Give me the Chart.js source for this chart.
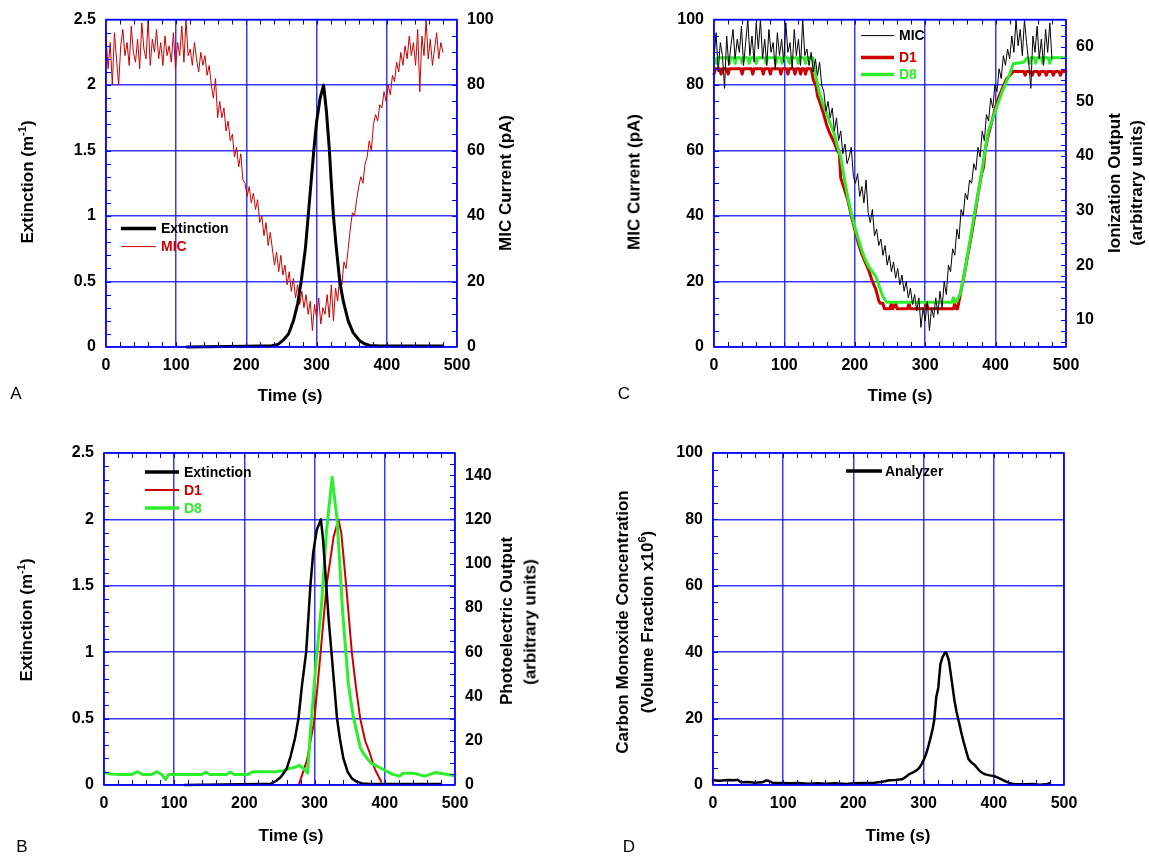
<!DOCTYPE html>
<html><head><meta charset="utf-8">
<script src="https://cdn.jsdelivr.net/npm/chart.js@4.4.1/dist/chart.umd.min.js"></script>
<style>
body{margin:0;background:#fff;width:1149px;height:859px;position:relative;overflow:hidden;font-family:"Liberation Sans",Arial,Helvetica,sans-serif;}
canvas{position:absolute;}
.t{position:absolute;font-weight:bold;font-size:17px;white-space:nowrap;transform:translate(-50%,-50%);color:#000;line-height:1;}
.r{transform:translate(-50%,-50%) rotate(-90deg);}
.p{position:absolute;font-size:17px;transform:translate(-50%,-50%);line-height:1;}
sup{font-size:11px;line-height:0;}
</style></head><body>
<canvas id="cA" width="574" height="430" style="left:0;top:0"></canvas>
<canvas id="cC" width="575" height="430" style="left:574px;top:0"></canvas>
<canvas id="cB" width="574" height="429" style="left:0;top:430px"></canvas>
<canvas id="cD" width="575" height="429" style="left:574px;top:430px"></canvas>

<div class="t r" style="left:27px;top:182px">Extinction (m<sup>-1</sup>)</div>
<div class="t r" style="left:505px;top:183px">MIC Current (pA)</div>
<div class="t" style="left:290px;top:395px">Time (s)</div>
<div class="p" style="left:16px;top:393px">A</div>

<div class="t r" style="left:634px;top:182px">MIC Current (pA)</div>
<div class="t r" style="left:1114px;top:183px">Ionization Output</div>
<div class="t r" style="left:1136px;top:183px">(arbitrary units)</div>
<div class="t" style="left:900px;top:395px">Time (s)</div>
<div class="p" style="left:624px;top:393px">C</div>

<div class="t r" style="left:26px;top:620px">Extinction (m<sup>-1</sup>)</div>
<div class="t r" style="left:506px;top:621px">Photoelectric Output</div>
<div class="t r" style="left:530px;top:622px">(arbitrary units)</div>
<div class="t" style="left:291px;top:835px">Time (s)</div>
<div class="p" style="left:22px;top:846px">B</div>

<div class="t r" style="left:622px;top:622px">Carbon Monoxide Concentration</div>
<div class="t r" style="left:647px;top:622px">(Volume Fraction x10<sup>6</sup>)</div>
<div class="t" style="left:898px;top:835px">Time (s)</div>
<div class="p" style="left:629px;top:846px">D</div>

<script>
// ---------------- DATA ----------------
const timeTicks = [0, 100, 200, 300, 400, 500];
const extTicks = [0, 0.5, 1, 1.5, 2, 2.5];
const micTicks = [0, 20, 40, 60, 80, 100];
const ionTicks = [10, 20, 30, 40, 50, 60];
const photoTicks = [0, 20, 40, 60, 80, 100, 120, 140];
const coTicks = [0, 20, 40, 60, 80, 100];

const legendA = ['Extinction', 'MIC'];
const legendB = ['Extinction', 'D1', 'D8'];
const legendC = ['MIC', 'D1', 'D8'];
const legendD = ['Analyzer'];

// Panel A: extinction [time s, m^-1]
const extA = [[115,0],[170,0.003],[200,0.006],[236,0.01],[245,0.02],[252,0.05],[260,0.1],[267,0.2],[273,0.33],[278,0.5],
  [284,0.75],[288,1.0],[292,1.25],[296,1.5],[300,1.72],[305,1.9],[310,2.0],[314,1.8],[318,1.52],[321,1.25],
  [324,1.0],[328,0.76],[333,0.5],[338,0.35],[345,0.2],[352,0.11],[361,0.05],[368,0.025],[376,0.012],[390,0.008],
  [420,0.008],[480,0.008]];
// Panel A: MIC current (pA), sampled every 3 s from 0 s
const micA_dt = 3;
const micA = [95,85,93,80,96,88,80,92,97,89,
  93,86,98,90,87,94,85,99,91,88,
  100,86,94,90,97,88,93,86,95,89,
  92,87,96,85,93,89,98,87,100,89,
  91,86,93,88,84,90,86,89,83,86,
  80,76,82,70,75,70,73,66,69,63,
  65,58,61,55,59,51,50,46,49,44,
  47,42,45,38,40,34,38,31,35,30,
  25,29,23,28,22,25,19,23,17,21,
  15,19,13,17,12,16,10,14,5,13,
  9,15,7,12,10,16,9,19,8,18,
  14,22,19,26,24,30,36,41,40,45,
  49,52,50,56,58,63,60,68,71,69,
  74,73,78,75,80,77,83,81,87,84,
  90,86,92,88,95,89,93,86,97,78,
  95,89,100,88,94,86,91,96,88,93,
  90];

// Panel C: MIC current (pA), every 3 s from 0 s
const micC_dt = 3;
const micC = [88,96,84,93,89,79,95,86,92,97,
  88,94,90,98,86,93,100,89,95,87,
  99,91,100,88,94,86,97,90,93,85,
  96,89,94,87,99,90,93,85,97,89,
  94,86,100,89,91,86,90,84,88,83,
  87,80,78,72,75,70,73,66,70,63,
  66,59,62,56,58,61,52,50,53,46,
  49,44,51,41,38,42,34,36,31,33,
  28,31,25,28,23,26,21,24,19,22,
  17,20,15,18,13,16,11,15,6,12,
  8,14,5,12,9,15,10,17,12,20,
  16,25,23,30,28,36,33,42,40,47,
  45,51,50,56,54,61,58,66,63,71,
  69,76,73,80,78,85,82,89,86,91,
  88,95,90,100,92,97,89,100,93,87,
  79,95,90,98,88,94,86,97,90,99,
  88];
// Panel C: D1 ionization output (arbitrary units)
const d1C = [[0,55],[2,56],[8,56],[10,55],[12,56],[18,56],[20,55],[22,56],[38,56],[40,55],[42,56],[53,56],[55,55],[57,56],
  [68,56],[70,55],[72,56],[78,56],[80,55],[82,56],[93,56],[95,55],[97,56],[103,56],[105,55],[107,56],[113,56],[115,55],
  [117,56],[121,56],[123,55],[125,56],[128,56],[130,55],[132,56],[138,56],[141,54],[145,52.8],[147,51],[150,50],
  [155,48],[160,45.7],[165,44],[170,42.7],[175,41],[178,40.5],[180,36],[185,34],[190,32],[195,29],[200,26.5],
  [205,24],[210,22],[215,20.5],[220,19],[225,17],[230,15.5],[234,13.5],[236,13],[240,13],[242,12],[250,12],
  [252,13],[254,12],[258,13],[260,12],[275,12],[277,13],[279,12],[300,12],[302,13],[304,12],[325,12],[340,12],
  [342,13],[344,12],[346,12],[350,14.7],[355,18],[360,21.5],[365,25],[370,28.8],[375,33],[380,36.7],[383,38],
  [385,41],[390,44],[395,46.5],[400,49],[405,51],[410,52.5],[415,54],[420,54.7],[425,55.5],[440,55.5],[442,54.8],
  [444,55.5],[450,55.5],[452,54.8],[454,55.5],[460,55.5],[462,54.8],[464,55.5],[470,55.5],[472,54.8],[474,55.5],
  [480,55.5],[482,54.8],[484,55.5],[490,55.5],[492,54.8],[494,55.5],[500,55.5]];
// Panel C: D8 ionization output (arbitrary units)
const d8C = [[0,58],[3,57],[5,58],[20,58],[22,57],[24,58],[28,58],[30,57],[32,58],[38,58],[40,57],[42,58],[48,58],
  [50,57],[52,58],[58,58],[60,57],[62,58],[72,58],[74,57],[76,58],[86,58],[88,57],[90,58],[95,58],[97,57],[99,58],
  [105,58],[107,57],[109,58],[118,58],[120,57],[122,58],[128,58],[130,57],[132,58],[140,58],[145,54.5],[150,51.4],
  [155,49.5],[160,47.8],[165,46],[170,44.4],[175,42],[180,39.8],[185,36],[190,32.5],[195,29.5],[200,27],[205,24.8],
  [210,22.7],[215,21],[220,19.7],[225,18.8],[230,17.9],[235,16],[240,14.2],[245,13.2],[250,13.2],[338,13.2],
  [340,14],[342,13.2],[345,13.5],[350,14.8],[355,18],[360,21.8],[365,25.5],[370,29.5],[375,33],[380,36.8],[385,41],
  [390,44.7],[395,46.5],[400,48.4],[405,50.2],[410,52],[415,53.5],[420,55],[425,56.9],[430,57],[440,57.2],[445,58],
  [448,57],[450,58],[455,58],[457,57],[459,58],[465,58],[467,57],[469,58],[475,58],[477,57],[479,58],[500,58]];

// Panel B
const extB = [[115,0],[170,0.003],[200,0.006],[238,0.01],[245,0.03],[252,0.06],[260,0.12],[266,0.22],[272,0.35],
  [277,0.5],[282,0.75],[288,1.0],[291,1.25],[294,1.5],[298,1.75],[303,1.92],[309,2.0],[312,1.85],[316,1.55],
  [320,1.25],[324,1.0],[328,0.75],[332,0.5],[336,0.35],[341,0.2],[347,0.1],[353,0.05],[360,0.025],[368,0.012],
  [380,0.008],[480,0.008]];
const d1B = [[278,0.5],[289,11],[299.5,29],[308.6,60],[317,90],[327,112],[334,120],[338,114],[345,90],[353,60],
  [359,44],[365,30],[372,20],[378,15],[386,7],[395,1.5]];
const d8B = [[0,5.6],[10,5],[20,4.8],[40,4.8],[48,6],[55,4.8],[68,4.8],[75,6],[82,4.8],[88,2.5],[92,4.8],[140,4.8],
  [145,5.9],[150,4.8],[175,4.8],[180,5.9],[185,4.8],[205,4.8],[213,6],[245,6],[255,6.5],[265,7.5],[272,8],[278,8.9],
  [283,7.8],[290,5.4],[294,24],[302,55],[310,82],[317,115],[325,139],[332,120],[340,78],[348,46],[355,31],[365,17],
  [370,14],[380,10],[398,7],[411,4.8],[421,4],[426,5.3],[441,5.3],[457,4],[472,5.6],[485,5],[500,4.2]];

// Panel D: CO analyzer (volume fraction x1e6)
const coD = [[0,1.4],[10,1.3],[20,1.5],[30,1.4],[35,1.6],[40,0.8],[50,0.9],[60,0.7],[70,0.8],[76,1.4],[80,1.2],
  [86,0.6],[100,0.6],[110,0.5],[122,0.6],[135,0.4],[150,0.5],[160,0.4],[174,0.5],[190,0.3],[200,0.5],[215,0.6],
  [230,0.7],[241,1],[251,1.4],[260,1.5],[269,1.7],[275,2.5],[279,3.2],[285,3.8],[290,4.4],[294,5.2],[297,6.2],
  [300,7.5],[303,9],[306,11],[310,14.3],[313,17],[315,19.4],[318,26.4],[321,29.4],[322,32],[324,36.5],[327,38.5],
  [331,40],[333,39.5],[336,37.5],[339,33],[341,30],[344,25.4],[347,22],[351,18.3],[354,15.5],[357,13],[361,10],
  [364,7.8],[368,6.8],[372,6.2],[376,5.2],[380,4.2],[384,3.6],[388,3.2],[394,2.9],[400,2.7],[405,2.3],[411,1.7],
  [416,1.2],[421,0.7],[426,0.4],[431,0.2],[445,0.2],[455,0.3],[465,0.1],[475,0.2],[480,0.6]];

// ---------------- RENDER ----------------
const FONT = "'Liberation Sans', Arial, Helvetica, sans-serif";
const BLUE = '#0000ff';
const GRID = 'rgba(20,20,255,0.85)';
const RED = '#cc0000';
const GREEN = '#2bef2b';

const pairs = a => a.map(p => ({x: p[0], y: p[1]}));
const sampled = (dt, a) => a.map((v, i) => ({x: i * dt, y: v}));

const framePlugin = {
  id: 'frame',
  afterDraw(chart, args, o) {
    const {ctx, chartArea: a, scales} = chart;
    const L = 5;
    ctx.save();
    ctx.strokeStyle = BLUE;
    ctx.lineWidth = 1;
    ctx.beginPath();
    const sx = scales.x;
    for (let v = o.xMinor; v < sx.max; v += o.xMinor) {
      const px = Math.round(sx.getPixelForValue(v)) + 0.5;
      ctx.moveTo(px, a.bottom); ctx.lineTo(px, a.bottom - L);
      ctx.moveTo(px, a.top); ctx.lineTo(px, a.top + L);
    }
    const sy = scales.y;
    for (let v = sy.min + o.yMinor; v < sy.max - 1e-9; v += o.yMinor) {
      const py = Math.round(sy.getPixelForValue(v)) + 0.5;
      ctx.moveTo(a.left, py); ctx.lineTo(a.left + L, py);
    }
    if (scales.y2) {
      const s2 = scales.y2;
      const start = Math.ceil((s2.min + 1e-9) / o.y2Minor) * o.y2Minor;
      for (let v = start; v < s2.max - 1e-9; v += o.y2Minor) {
        const py = Math.round(s2.getPixelForValue(v)) + 0.5;
        ctx.moveTo(a.right, py); ctx.lineTo(a.right - L, py);
      }
    }
    ctx.stroke();
    ctx.lineWidth = 1.6;
    ctx.strokeRect(a.left, a.top, a.width, a.height);
    ctx.restore();
  }
};

const legendPlugin = {
  id: 'inlegend',
  afterDraw(chart, args, o) {
    const {ctx, chartArea: a} = chart;
    ctx.save();
    o.items.forEach(it => {
      ctx.strokeStyle = it.color;
      ctx.lineWidth = it.width;
      ctx.beginPath();
      ctx.moveTo(a.left + o.x0, a.top + it.y);
      ctx.lineTo(a.left + o.x1, a.top + it.y);
      ctx.stroke();
      ctx.fillStyle = it.textColor;
      ctx.font = 'bold 14px ' + FONT;
      ctx.textBaseline = 'middle';
      ctx.fillText(it.label, a.left + o.tx, a.top + it.y + 1);
    });
    ctx.restore();
  }
};

const tickFont = {family: FONT, size: 16, weight: 'bold'};

function axis(pos, min, max, ticksArr, size, grid) {
  const horiz = pos === 'bottom';
  return {
    type: 'linear', position: pos, min, max,
    afterBuildTicks: s => { s.ticks = ticksArr.map(v => ({value: v})); },
    afterFit: s => { if (horiz) s.height = size; else s.width = size; },
    grid: {display: grid, color: GRID, lineWidth: 1.5, drawTicks: false},
    border: {display: false},
    ticks: {font: tickFont, color: '#000', padding: horiz ? 9 : 10, maxRotation: 0, autoSkip: false,
      callback: v => String(v)}
  };
}

function make(id, cfg) {
  const scales = {
    x: axis('bottom', 0, 500, timeTicks, cfg.bottom, true),
    y: axis('left', cfg.yMin, cfg.yMax, cfg.yTicks, cfg.left, true)
  };
  if (cfg.y2Ticks) scales.y2 = axis('right', cfg.y2Min, cfg.y2Max, cfg.y2Ticks, cfg.right, false);
  new Chart(document.getElementById(id), {
    type: 'line',
    data: {datasets: cfg.datasets.map(d => Object.assign({
      pointRadius: 0, tension: 0, fill: false, clip: false, borderJoinStyle: 'round', borderCapStyle: 'round'
    }, d))},
    options: {
      responsive: false, animation: false, devicePixelRatio: 1,
      layout: {padding: {top: cfg.top, left: 0, bottom: 0, right: cfg.y2Ticks ? 0 : cfg.right}},
      plugins: {legend: {display: false}, tooltip: {enabled: false},
        frame: cfg.frame, inlegend: cfg.legend},
      scales
    },
    plugins: [framePlugin, legendPlugin]
  });
}

// Panel A
make('cA', {
  top: 19, left: 106, right: 117, bottom: 83,
  yMin: 0, yMax: 2.5, yTicks: extTicks, y2Min: 0, y2Max: 100, y2Ticks: micTicks,
  frame: {xMinor: 20, yMinor: 0.1, y2Minor: 5},
  legend: {x0: 15, x1: 50, tx: 55, items: [
    {label: legendA[0], color: '#000', width: 3.5, textColor: '#000', y: 209},
    {label: legendA[1], color: RED, width: 1, textColor: RED, y: 227}]},
  datasets: [
    {label: legendA[0], data: pairs(extA), borderColor: '#000', borderWidth: 3, yAxisID: 'y'},
    {label: legendA[1], data: sampled(micA_dt, micA), borderColor: RED, borderWidth: 1, yAxisID: 'y2'}
  ]
});

// Panel C
make('cC', {
  top: 19, left: 140, right: 83, bottom: 83,
  yMin: 0, yMax: 100, yTicks: micTicks, y2Min: 5, y2Max: 65, y2Ticks: ionTicks,
  frame: {xMinor: 20, yMinor: 5, y2Minor: 2},
  legend: {x0: 147, x1: 180, tx: 185, items: [
    {label: legendC[0], color: '#000', width: 1, textColor: '#000', y: 16},
    {label: legendC[1], color: RED, width: 3.5, textColor: RED, y: 38},
    {label: legendC[2], color: GREEN, width: 3.5, textColor: GREEN, y: 55}]},
  datasets: [
    {label: legendC[0], data: sampled(micC_dt, micC), borderColor: '#000', borderWidth: 1, yAxisID: 'y'},
    {label: legendC[2], data: pairs(d8C), borderColor: GREEN, borderWidth: 3, yAxisID: 'y2'},
    {label: legendC[1], data: pairs(d1C), borderColor: RED, borderWidth: 3, yAxisID: 'y2'}
  ]
});

// Panel B
make('cB', {
  top: 23, left: 104, right: 119, bottom: 74,
  yMin: 0, yMax: 2.5, yTicks: extTicks, y2Min: 0, y2Max: 150, y2Ticks: photoTicks,
  frame: {xMinor: 20, yMinor: 0.1, y2Minor: 5},
  legend: {x0: 41, x1: 75, tx: 80, items: [
    {label: legendB[0], color: '#000', width: 3.5, textColor: '#000', y: 19},
    {label: legendB[1], color: RED, width: 2, textColor: RED, y: 37},
    {label: legendB[2], color: GREEN, width: 3.5, textColor: GREEN, y: 55}]},
  datasets: [
    {label: legendB[0], data: pairs(extB), borderColor: '#000', borderWidth: 2.5, yAxisID: 'y'},
    {label: legendB[2], data: pairs(d8B), borderColor: GREEN, borderWidth: 3, yAxisID: 'y2'},
    {label: legendB[1], data: pairs(d1B), borderColor: RED, borderWidth: 2, yAxisID: 'y2'}
  ]
});

// Panel D
make('cD', {
  top: 23, left: 139, right: 85, bottom: 74,
  yMin: 0, yMax: 100, yTicks: coTicks,
  frame: {xMinor: 20, yMinor: 5},
  legend: {x0: 133, x1: 169, tx: 172, items: [
    {label: legendD[0], color: '#000', width: 3.5, textColor: '#000', y: 18}]},
  datasets: [
    {label: legendD[0], data: pairs(coD), borderColor: '#000', borderWidth: 2.5, yAxisID: 'y'}
  ]
});
</script>
</body></html>
